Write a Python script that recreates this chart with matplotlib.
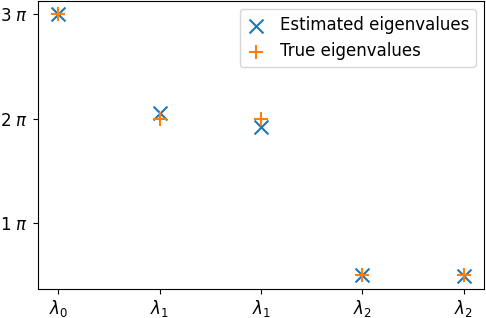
import numpy as np
import matplotlib
matplotlib.use("Agg")
import matplotlib.pyplot as plt

# eigenvalues in units of pi
labels = [r"$\lambda_0$", r"$\lambda_1$", r"$\lambda_1$", r"$\lambda_2$", r"$\lambda_2$"]
estimated = [3.0, 2.05, 1.92, 0.5, 0.49]
true_vals = [3.0, 2.0, 2.0, 0.5, 0.5]
yticks = [1, 2, 3]

plt.rcParams['font.size'] = 12

fig = plt.figure(figsize=(4.86, 3.18), dpi=100)
ax = fig.add_axes([0.078, 0.09, 0.918, 0.907])

x = np.arange(len(labels))
ax.scatter(x, np.array(estimated) * np.pi, marker='x', s=100, label="Estimated eigenvalues")
ax.scatter(x, np.array(true_vals) * np.pi, marker='+', s=100, label="True eigenvalues")

ax.set_xticks(x)
ax.set_xticklabels(labels)
ax.tick_params(axis='x', pad=2.5)
ax.set_yticks([k * np.pi for k in yticks])
ax.set_yticklabels([f"{k} $\\pi$" for k in yticks])
ax.legend(loc='upper right', handlelength=1.2)

fig.savefig("out.png", dpi=100)
